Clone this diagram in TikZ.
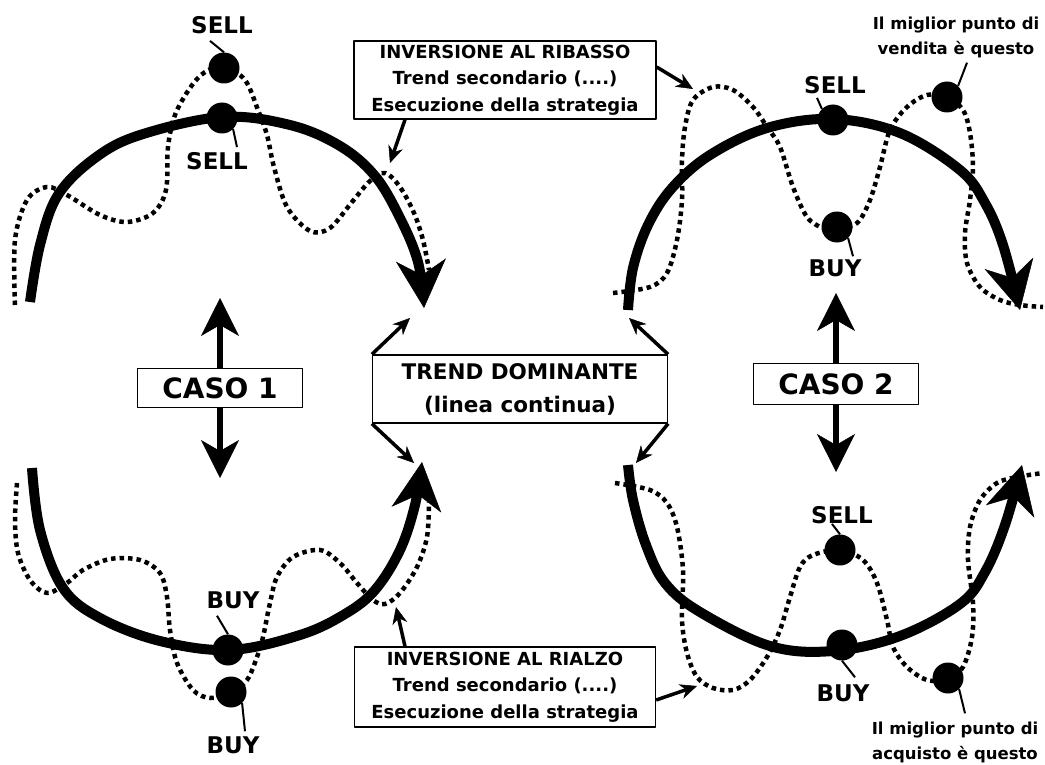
\documentclass[tikz,border=0pt]{standalone}
\usepackage{fontspec}
\setmainfont{DejaVu Sans}
\usetikzlibrary{arrows.meta}

\begin{document}
\begin{tikzpicture}[x=1pt, y=-1pt, line join=round]

% ---------- styles (safe names) ----------
\tikzset{
  trendLine/.style ={line width=10pt,
    -{Stealth[length=48pt,width=50pt,inset=15pt,line width=0.5pt]}},
  swingLine/.style ={line width=4.5pt, dash pattern=on 4.5pt off 4pt},
  pointerArrow/.style={line width=3.5pt,
    -{Stealth[length=17pt,width=15pt,line width=0.5pt]}},
  casoArrow/.style ={line width=6pt,
    -{Stealth[length=38pt,width=38pt,inset=11pt,line width=0.5pt]}},
  leaderLine/.style={line width=2pt},
  tradeDot/.style  ={circle, fill=black, inner sep=0pt, minimum size=31pt},
  tradeTxt/.style  ={inner sep=0pt, font=\fontsize{23}{25}\selectfont\bfseries},
  noteBox/.style   ={draw, line width=1.3pt, fill=white, align=center, inner sep=0pt},
  bestTxt/.style   ={inner sep=0pt, align=center,
    font=\fontsize{16.5}{25}\selectfont\bfseries}
}

\useasboundingbox (0,0) rectangle (1045,765);

% ---------- CASO 1: dominant trend (thick) ----------
\draw[trendLine] plot[smooth, tension=0.6] coordinates {
  (30,302) (40,245) (58,195) (95,158) (140,135) (222,117)
  (290,125) (340,146) (375,176) (400,218) (418,262) (424,308)};
\draw[trendLine] plot[smooth, tension=0.6] coordinates {
  (32,468) (40,530) (63,588) (100,618) (160,641) (230,650)
  (300,635) (345,614) (375,590) (400,550) (415,505) (422,462)};

% ---------- CASO 1: secondary trend (dotted) ----------
\draw[swingLine] plot[smooth, tension=0.55] coordinates {
  (15,305) (15,240) (27,200) (47,187) (67,195) (100,215) (127,222)
  (153,213) (166,190) (168,147) (175,115) (190,88) (205,72) (224,67)
  (245,80) (258,110) (267,135) (274,167) (287,207) (310,231) (330,228)
  (352,202) (370,181) (385,173) (400,187) (414,213) (423,240) (429,270)};
\draw[swingLine] plot[smooth, tension=0.55] coordinates {
  (17,483) (15,520) (18,553) (30,580) (47,593) (67,583) (83,570)
  (110,559) (140,560) (160,573) (167,597) (170,630) (177,663) (193,690)
  (210,698) (230,693) (247,680) (257,657) (263,637) (270,603) (277,577)
  (293,557) (320,550) (340,563) (357,583) (373,600) (385,604) (400,593)
  (417,567) (427,537) (429,502)};

% ---------- CASO 2: dominant trend (thick) ----------
\draw[trendLine] plot[smooth, tension=0.6] coordinates {
  (628,310) (633,268) (648,225) (672,188) (710,155) (767,128) (833,119)
  (900,133) (960,170) (985,203) (1003,245) (1020,310)};
\draw[trendLine] plot[smooth, tension=0.6] coordinates {
  (628,465) (633,500) (646,545) (665,583) (700,612) (770,646) (833,651)
  (900,636) (960,604) (985,572) (1005,525) (1022,465)};

% ---------- CASO 2: secondary trend (dotted) ----------
\draw[swingLine] plot[smooth, tension=0.55] coordinates {
  (613,293) (650,287) (667,273) (677,240) (682,200) (682,160) (685,127)
  (693,100) (713,87) (733,90) (753,107) (767,127) (780,147) (793,187)
  (807,217) (823,228) (837,228) (857,223) (870,200) (880,167) (890,130)
  (907,107) (927,95) (947,97) (963,110) (970,133) (973,167) (970,200)
  (965,233) (967,263) (980,287) (1000,300) (1020,305) (1043,307)};
\draw[swingLine] plot[smooth, tension=0.55] coordinates {
  (615,483) (650,490) (667,503) (677,527) (683,570) (682,620) (687,653)
  (697,677) (713,688) (733,690) (750,680) (767,657) (780,630) (790,597)
  (800,567) (813,555) (840,550) (863,560) (877,583) (887,620) (893,647)
  (907,667) (927,680) (948,679) (963,667) (972,637) (973,603) (968,560)
  (970,527) (980,500) (997,483) (1017,477) (1043,473)};

% ---------- labels of the cases ----------
\node[noteBox, minimum width=165pt, minimum height=39pt,
  font=\fontsize{28}{30}\selectfont\bfseries] (caso1) at (220,388) {CASO 1};
\node[noteBox, minimum width=165pt, minimum height=41pt,
  font=\fontsize{28}{30}\selectfont\bfseries] (caso2) at (836,384) {CASO 2};

\coordinate (caso1Up) at (220,298);
\coordinate (caso1Dn) at (220,478);
\coordinate (caso2Up) at (836,293);
\coordinate (caso2Dn) at (836,472);
\draw[casoArrow] (caso1.north) -- (caso1Up);
\draw[casoArrow] (caso1.south) -- (caso1Dn);
\draw[casoArrow] (caso2.north) -- (caso2Up);
\draw[casoArrow] (caso2.south) -- (caso2Dn);

% ---------- note boxes ----------
\node[noteBox, minimum width=302pt, minimum height=78pt,
  font=\fontsize{18}{26.5}\selectfont\bfseries] (invDown) at (505,80)
  {INVERSIONE AL RIBASSO\\Trend secondario (....)\\Esecuzione della strategia};
\node[noteBox, minimum width=301pt, minimum height=80pt,
  font=\fontsize{18}{26.5}\selectfont\bfseries] (invUp) at (505,687)
  {INVERSIONE AL RIALZO\\Trend secondario (....)\\Esecuzione della strategia};
\node[noteBox, minimum width=295pt, minimum height=68pt,
  font=\fontsize{21.5}{33}\selectfont\bfseries] (trendBox) at (520,389)
  {TREND DOMINANTE\\(linea continua)};

% pointer ends
\coordinate (invDownTipA) at (390,163);
\coordinate (invDownTipB) at (693,89);
\coordinate (invUpTipA)   at (396,607);
\coordinate (invUpTipB)   at (697,686);
\coordinate (trendTipNW)  at (410,318);
\coordinate (trendTipSW)  at (414,463);
\coordinate (trendTipNE)  at (629,318);
\coordinate (trendTipSE)  at (636,463);

\draw[pointerArrow] ([xshift=-100pt]invDown.south) -- (invDownTipA);
\draw[pointerArrow] ([yshift=13pt]invDown.east) -- (invDownTipB);
\draw[pointerArrow] ([xshift=-100pt]invUp.north) -- (invUpTipA);
\draw[pointerArrow] ([yshift=-13pt]invUp.east) -- (invUpTipB);
\draw[pointerArrow] (trendBox.north west) -- (trendTipNW);
\draw[pointerArrow] (trendBox.south west) -- (trendTipSW);
\draw[pointerArrow] (trendBox.north east) -- (trendTipNE);
\draw[pointerArrow] (trendBox.south east) -- (trendTipSE);

% ---------- trade points, CASO 1 ----------
\node[tradeDot] (sellTop1) at (224,68) {};
\node[tradeDot] (sellArc1) at (222,118) {};
\node[tradeDot] (buyArc1)  at (228,650) {};
\node[tradeDot] (buyLow1)  at (231,692) {};

\node[tradeTxt] (sellTop1Txt) at (222,25)  {SELL};
\node[tradeTxt] (sellArc1Txt) at (217,161) {SELL};
\node[tradeTxt] (buyArc1Txt)  at (233,600) {BUY};
\node[tradeTxt] (buyLow1Txt)  at (233,745) {BUY};

\draw[leaderLine] ([xshift=-12pt,yshift=-7pt]sellTop1Txt.south) -- (sellTop1.north);
\draw[leaderLine] (sellArc1.south east) -- ([xshift=20pt,yshift=5pt]sellArc1Txt.north);
\draw[leaderLine] ([xshift=-16pt,yshift=-7pt]buyArc1Txt.south) -- (buyArc1.north);
\draw[leaderLine] (buyLow1.south east) -- ([xshift=12pt,yshift=5pt]buyLow1Txt.north);

% ---------- trade points, CASO 2 ----------
\node[tradeDot] (sellArc2)  at (833,120) {};
\node[tradeDot] (buyHigh2)  at (837,227) {};
\node[tradeDot] (bestSell)  at (947,97)  {};
\node[tradeDot] (sellLow2)  at (840,550) {};
\node[tradeDot] (buyArc2)   at (842,645) {};
\node[tradeDot] (bestBuy)   at (948,678) {};

\node[tradeTxt] (sellArc2Txt) at (835,85)  {SELL};
\node[tradeTxt] (buyHigh2Txt) at (835,268) {BUY};
\node[tradeTxt] (sellLow2Txt) at (842,515) {SELL};
\node[tradeTxt] (buyArc2Txt)  at (843,693) {BUY};
\node[bestTxt] (bestSellTxt) at (956,37)
  {Il miglior punto di\\vendita è questo};
\node[bestTxt] (bestBuyTxt) at (955,742)
  {Il miglior punto di\\acquisto è questo};

\draw[leaderLine] ([xshift=-18pt,yshift=-4pt]sellArc2Txt.south) -- (sellArc2.north west);
\draw[leaderLine] (buyHigh2.south east) -- ([xshift=18pt,yshift=3pt]buyHigh2Txt.north);
\draw[leaderLine] (bestSell.north east) -- ([xshift=11pt,yshift=-5pt]bestSellTxt.south);
\draw[leaderLine] ([xshift=-10pt]sellLow2Txt.south) -- (sellLow2.north);
\draw[leaderLine] (buyArc2.south) -- ([xshift=12pt,yshift=7pt]buyArc2Txt.north);
\draw[leaderLine] (bestBuy.south east) -- ([xshift=10pt,yshift=8pt]bestBuyTxt.north);

\end{tikzpicture}
\end{document}
